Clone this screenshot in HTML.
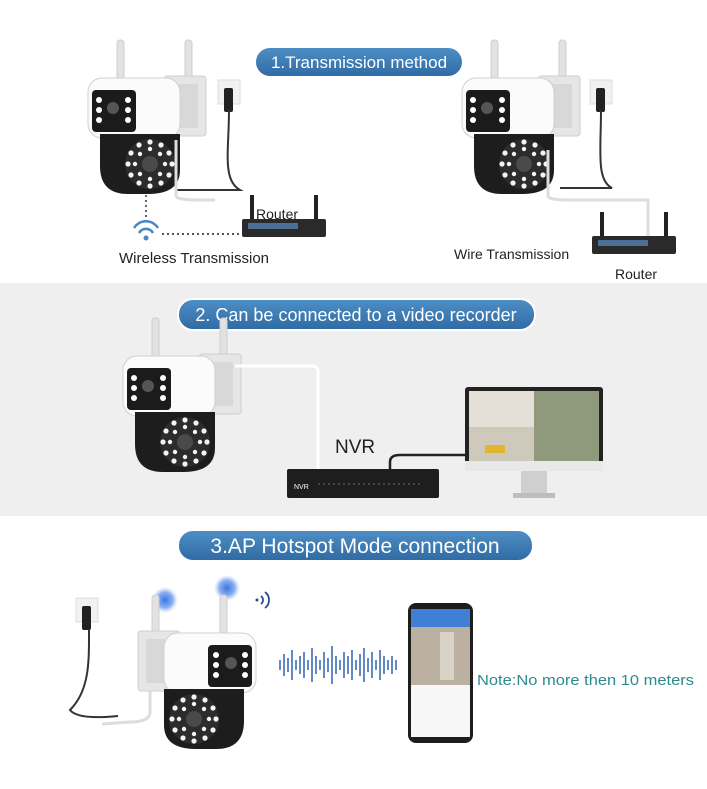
<!DOCTYPE html>
<html><head><meta charset="utf-8"><style>
html,body{margin:0;padding:0;background:#fff}
svg{display:block}
text{font-family:"Liberation Sans","DejaVu Sans",sans-serif}
</style></head><body>
<svg width="707" height="789" viewBox="0 0 707 789" xmlns="http://www.w3.org/2000/svg">
<defs>
<linearGradient id="pill" x1="0" y1="0" x2="0" y2="1">
<stop offset="0" stop-color="#4f8fc6"/><stop offset="1" stop-color="#2f6aa3"/>
</linearGradient>
<radialGradient id="glow"><stop offset="0" stop-color="#3a74e0"/><stop offset="0.6" stop-color="#6d9bf0" stop-opacity="0.8"/><stop offset="1" stop-color="#a8c4f5" stop-opacity="0"/></radialGradient>
<g id="cam">
<rect x="29" y="0" width="7" height="58" rx="3" fill="#e2e2e2" stroke="#cfcfcf"/>
<rect x="97" y="0" width="7" height="68" rx="3" fill="#e2e2e2" stroke="#cfcfcf"/>
<rect x="76" y="36" width="42" height="60" rx="3" fill="#e6e6e6" stroke="#cfcfcf"/>
<rect x="84" y="44" width="26" height="44" fill="#d8d8d8"/>
<rect x="0" y="38" width="92" height="60" rx="14" fill="#fbfbfb" stroke="#d0d0d0"/>
<rect x="4" y="50" width="44" height="42" rx="4" fill="#1b1b1b"/>
<circle cx="11" cy="60" r="3" fill="#fff"/><circle cx="11" cy="70" r="3" fill="#fff"/><circle cx="11" cy="80" r="3" fill="#fff"/>
<circle cx="40" cy="60" r="3" fill="#fff"/><circle cx="40" cy="70" r="3" fill="#fff"/><circle cx="40" cy="80" r="3" fill="#fff"/>
<circle cx="25" cy="68" r="6" fill="#555"/>
<path d="M12 94 H92 V130 Q92 154 60 154 H40 Q12 154 12 126 Z" fill="#1d1d1d"/>
<circle cx="62" cy="124" r="25" fill="#2c2c2c"/>
<g fill="#f4f4f4">
<circle cx="62" cy="102" r="2.6"/><circle cx="73" cy="105" r="2.6"/><circle cx="81" cy="113" r="2.6"/><circle cx="84" cy="124" r="2.6"/><circle cx="81" cy="135" r="2.6"/><circle cx="73" cy="143" r="2.6"/><circle cx="62" cy="146" r="2.6"/><circle cx="51" cy="143" r="2.6"/><circle cx="43" cy="135" r="2.6"/><circle cx="40" cy="124" r="2.6"/><circle cx="43" cy="113" r="2.6"/><circle cx="51" cy="105" r="2.6"/>
<circle cx="62" cy="109" r="2.2"/><circle cx="72" cy="114" r="2.2"/><circle cx="77" cy="124" r="2.2"/><circle cx="72" cy="134" r="2.2"/><circle cx="62" cy="139" r="2.2"/><circle cx="52" cy="134" r="2.2"/><circle cx="47" cy="124" r="2.2"/><circle cx="52" cy="114" r="2.2"/>
</g>
<circle cx="62" cy="124" r="8" fill="#4a4a4a"/>
</g>
<g id="sock">
<rect x="0" y="0" width="22" height="24" fill="#f1f1f1" stroke="#ddd"/>
<rect x="6" y="8" width="9" height="24" rx="2" fill="#222"/>
</g>
<g id="router">
<rect x="0" y="0" width="4" height="26" fill="#222"/>
<rect x="64" y="0" width="4" height="26" fill="#222"/>
<rect x="-8" y="24" width="84" height="18" rx="2" fill="#2a2a2a"/>
<rect x="-2" y="28" width="50" height="6" fill="#4d6f94"/>
</g>
</defs>

<rect x="0" y="283" width="707" height="233" fill="#efefef"/>

<!-- Section 1 -->
<rect x="255" y="47" width="208" height="30" rx="15" fill="url(#pill)" stroke="#fff" stroke-width="2"/>
<text x="359" y="68" font-size="17" fill="#fff" text-anchor="middle">1.Transmission method</text>

<use href="#cam" x="88" y="40"/>
<use href="#sock" x="218" y="80"/>
<path d="M229 110 C229 150 222 180 240 190 L175 190" fill="none" stroke="#333" stroke-width="2"/>
<path d="M176 140 V196 Q176 200 200 200 L215 200" fill="none" stroke="#ddd" stroke-width="3"/>
<path d="M146 195 V220" stroke="#666" stroke-width="2" stroke-dasharray="2,3"/>
<path d="M134 228 a14 14 0 0 1 24 0 M139 233 a8 8 0 0 1 14 0" fill="none" stroke="#4a86c7" stroke-width="2.5"/>
<circle cx="146" cy="238" r="2.5" fill="#4a86c7"/>
<path d="M162 234 H242" stroke="#555" stroke-width="2" stroke-dasharray="2,3"/>
<use href="#router" x="250" y="195"/>
<text x="256" y="219" font-size="14" fill="#222">Router</text>
<text x="119" y="263" font-size="15" fill="#222">Wireless Transmission</text>

<use href="#cam" x="462" y="40"/>
<use href="#sock" x="590" y="80"/>
<path d="M601 110 C601 150 596 180 612 188 L560 188" fill="none" stroke="#333" stroke-width="2"/>
<path d="M548 150 V196 Q548 200 570 200 L648 200 V246" fill="none" stroke="#ddd" stroke-width="3"/>
<use href="#router" x="600" y="212"/>
<text x="454" y="259" font-size="14" fill="#222">Wire Transmission</text>
<text x="615" y="279" font-size="14" fill="#222">Router</text>

<!-- Section 2 -->
<rect x="178" y="299" width="357" height="31" rx="15" fill="url(#pill)" stroke="#fff" stroke-width="2"/>
<text x="356" y="321" font-size="18" fill="#fff" text-anchor="middle">2. Can be connected to a video recorder</text>
<use href="#cam" x="123" y="318"/>
<path d="M235 366 H312 Q318 366 318 372 V470" fill="none" stroke="#fff" stroke-width="3"/>
<text x="335" y="453" font-size="19" fill="#222">NVR</text>
<path d="M390 470 V462 Q390 455 400 455 H470" fill="none" stroke="#222" stroke-width="2.5"/>
<rect x="287" y="469" width="152" height="29" rx="2" fill="#1e1e1e"/>
<text x="294" y="489" font-size="7" fill="#fff">NVR</text>
<path d="M318 484 H420" stroke="#555" stroke-width="1.5" stroke-dasharray="2,3"/>
<rect x="465" y="387" width="138" height="84" rx="3" fill="#222"/>
<rect x="469" y="391" width="130" height="70" fill="#b9ad95"/>
<rect x="469" y="391" width="65" height="36" fill="#e4e0d8"/>
<rect x="534" y="391" width="65" height="70" fill="#8f9a7c"/>
<rect x="469" y="427" width="65" height="34" fill="#cfc9bb"/>
<rect x="485" y="445" width="20" height="8" fill="#e0b530"/>
<rect x="465" y="461" width="138" height="10" fill="#e8e8e8"/>
<rect x="521" y="471" width="26" height="22" fill="#cfcfcf"/>
<rect x="513" y="493" width="42" height="5" fill="#bdbdbd"/>

<!-- Section 3 -->
<rect x="178" y="530" width="355" height="31" rx="15" fill="url(#pill)" stroke="#fff" stroke-width="2"/>
<text x="355" y="553" font-size="21" fill="#fff" text-anchor="middle">3.AP Hotspot Mode connection</text>
<use href="#sock" x="76" y="598"/>
<path d="M89 630 C89 660 90 690 70 710 Q78 720 118 716" fill="none" stroke="#333" stroke-width="2"/>
<path d="M150 668 V712 Q150 722 130 722 L102 724" fill="none" stroke="#ddd" stroke-width="3"/>
<circle cx="165" cy="600" r="13" fill="url(#glow)"/>
<circle cx="227" cy="588" r="13" fill="url(#glow)"/>
<g transform="translate(256,595) scale(-1,1)"><use href="#cam"/></g>
<path d="M261 596 a5 5 0 0 1 0 8 M265 592 a10 10 0 0 1 0 16" fill="none" stroke="#2a4a8a" stroke-width="1.8"/>
<circle cx="257" cy="600" r="1.5" fill="#2a4a8a"/>
<g stroke="#3a6db8" stroke-width="1.6">
<path d="M280 660v10M284 654v22M288 658v14M292 650v30M296 660v10M300 656v18M304 652v26M308 660v10M312 648v34M316 656v18M320 660v10M324 652v26M328 658v14M332 646v38M336 656v18M340 660v10M344 652v26M348 656v18M352 650v30M356 660v10M360 654v22M364 648v34M368 658v14M372 652v26M376 660v10M380 650v30M384 656v18M388 660v10M392 656v18M396 660v10"/>
</g>
<rect x="408" y="603" width="65" height="140" rx="8" fill="#1d1d1d"/>
<rect x="411" y="609" width="59" height="128" fill="#f7f7f7"/>
<rect x="411" y="609" width="59" height="18" fill="#3f7fd4"/>
<rect x="411" y="627" width="59" height="58" fill="#bcb0a0"/>
<rect x="440" y="632" width="14" height="48" fill="#d9d2c6"/>
<text x="477" y="685" font-size="15" fill="#2c8a8e" textLength="217" lengthAdjust="spacingAndGlyphs">Note:No more then 10 meters</text>
</svg>
</body></html>
